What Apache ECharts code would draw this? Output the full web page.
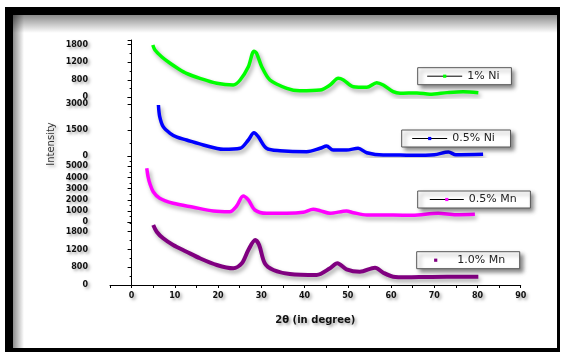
<!DOCTYPE html>
<html>
<head>
<meta charset="utf-8">
<script src="https://cdn.jsdelivr.net/npm/echarts@6/dist/echarts.min.js"></script>
<style>
  html, body { margin: 0; padding: 0; background: #fff; }
  #xrd { width: 562px; height: 355px; }
</style>
</head>
<body>
<div id="xrd"></div>
<script>
// 2theta / intensity, one pair of arrays per sample
var names  = ['1% Ni', '0.5% Ni', '0.5% Mn', '1.0% Mn'];
var colors = ['#00ff00', '#0000ff', '#ff00ff', '#800080'];

var ni1X = [4.9, 5.4, 7, 8.9, 10.8, 12.7, 15.8, 19.7, 23.5, 25.1, 27.0, 28.3, 28.9, 30.1, 32.0, 35.9, 38.9, 43.6, 45.9, 47.8, 49.0, 51.3, 54.4, 56.7, 58.2, 60.5, 62.1, 66, 69, 73, 76.7, 80.2];
var ni1Y = [1790, 1620, 1380, 1164, 980, 821, 650, 479, 421, 592, 1047, 1580, 1506, 1047, 592, 308, 226, 250, 421, 650, 592, 363, 342, 500, 421, 192, 137, 150, 103, 160, 192, 157];

var ni05X = [6.2, 6.5, 7.3, 8.9, 10.5, 12.7, 16.6, 21.2, 25.1, 27.0, 28.3, 29.3, 31.2, 34.3, 40.5, 43.6, 45.1, 46.6, 49.7, 52.4, 54.4, 58.2, 62.1, 65, 70, 73.3, 75, 81.3];
var ni05Y = [2960, 2285, 1708, 1327, 1100, 940, 652, 404, 462, 940, 1362, 1131, 462, 323, 265, 462, 594, 363, 363, 462, 208, 75, 75, 60, 90, 250, 90, 115];

var mn05X = [3.5, 3.8, 4.2, 5.0, 6.5, 9.6, 14.3, 18.9, 22.7, 24.3, 25.8, 27.0, 28.5, 31.2, 35.9, 39.7, 42.0, 43.6, 45.9, 49.7, 51.3, 54.4, 60.5, 65, 70.9, 75, 79.4];
var mn05Y = [4833, 4077, 3483, 2727, 2133, 1683, 1323, 990, 927, 1440, 2340, 1980, 1080, 783, 783, 873, 1143, 1017, 783, 990, 837, 630, 630, 600, 783, 650, 693];

var mn10X = [5.0, 5.8, 7.3, 9.6, 12.7, 15.8, 19.7, 23.5, 25.5, 27.0, 28.6, 29.5, 30.8, 32.8, 36.6, 42.8, 45.9, 47.6, 49.7, 52.8, 56.3, 58.2, 60.5, 63.6, 68, 72.9, 80.2];
var mn10Y = [2026, 1800, 1577, 1351, 1125, 902, 675, 564, 733, 1182, 1520, 1351, 733, 507, 371, 338, 564, 733, 530, 449, 584, 415, 280, 260, 270, 280, 280];

// tick values and the text printed at them (the original labels are not linear)
var ni1Ticks  = [0, 600, 1200, 1800];
var ni1Text   = ['0', '800', '1200', '1800'];
var ni05Ticks = [0, 1500, 3000];
var ni05Text  = ['0', '1500', '3000'];
var mn05Ticks = [0, 1000, 2000, 3000, 4000, 5000];
var mn05Text  = ['0', '1000', '2000', '3000', '4000', '5000'];
var mn10Ticks = [0, 600, 1200, 1800];
var mn10Text  = ['0', '800', '1200', '1800'];
var xLabels   = [0, 10, 20, 30, 40, 50, 60, 70, 80, 90];

var xs = [ni1X, ni05X, mn05X, mn10X];
var ys = [ni1Y, ni05Y, mn05Y, mn10Y];
var tickVals = [ni1Ticks, ni05Ticks, mn05Ticks, mn10Ticks];
var tickText = [ni1Text, ni05Text, mn05Text, mn10Text];

// layout of the four stacked panels
var panelTop = [40, 97.3, 156.3, 222];
var panelH   = [57.3, 59, 65.7, 63];
var yMax     = [1961, 3404, 5910, 2127];
var yStep    = [600, 1500, 1000, 600];

var shadowTxt = {
  textShadowColor: 'rgba(0,0,0,0.35)',
  textShadowBlur: 3,
  textShadowOffsetX: 2,
  textShadowOffsetY: 2
};

function pairs(a, b) {
  var out = [];
  for (var i = 0; i < a.length; i++) out.push([a[i], b[i]]);
  return out;
}

var grids = [], xAxes = [], yAxes = [], series = [];
for (var i = 0; i < 4; i++) {
  grids.push({ left: 110, right: 41.3, top: panelTop[i], height: panelH[i] });
  xAxes.push({
    type: 'value', gridIndex: i, min: -5, max: 90, interval: 5,
    show: i === 3,
    axisLine: { lineStyle: { color: '#000', width: 1 } },
    axisTick: { length: 3, lineStyle: { color: '#000' } },
    splitLine: { show: false },
    axisLabel: Object.assign({
      margin: 7, fontSize: 8, fontWeight: 'bold', fontFamily: 'DejaVu Sans', color: '#111',
      formatter: function (v) { return xLabels.indexOf(v) < 0 ? '' : String(v); }
    }, shadowTxt),
    name: i === 3 ? '2θ (in degree)' : '',
    nameLocation: 'middle', nameGap: 30,
    nameTextStyle: Object.assign({ fontSize: 10, fontWeight: 'bold', fontFamily: 'DejaVu Sans', color: '#111' }, shadowTxt)
  });
  (function (k) {
    yAxes.push({
      type: 'value', gridIndex: k, min: 0, max: yMax[k], interval: yStep[k],
      axisLine: { show: true, lineStyle: { color: '#000', width: 1 } },
      axisTick: { show: true, length: 4, lineStyle: { color: '#000' } },
      minorTick: { show: true, splitNumber: 2, length: 2, lineStyle: { color: '#000' } },
      splitLine: { show: false },
      axisLabel: Object.assign({
        margin: 22, fontSize: 8, fontWeight: 'bold', fontFamily: 'DejaVu Sans', color: '#111',
        padding: [3, 0, 0, 0],
        formatter: function (v) {
          var j = tickVals[k].indexOf(v);
          return j < 0 ? '' : tickText[k][j];
        }
      }, shadowTxt)
    });
  })(i);
  series.push({
    name: names[i], type: 'line', xAxisIndex: i, yAxisIndex: i,
    data: pairs(xs[i], ys[i]),
    smooth: 0.3, symbol: 'rect', showSymbol: false,
    lineStyle: {
      color: colors[i], width: i === 3 ? 4 : 3.5,
      shadowColor: 'rgba(0,0,0,0.35)', shadowBlur: 4, shadowOffsetX: 2, shadowOffsetY: 3
    },
    itemStyle: { color: colors[i] }
  });
}

function legendBox(k, left, top, padL, padR, itemW, showLine) {
  return {
    data: [names[k]], left: left, top: top,
    padding: [3, padR, 3, padL], itemWidth: itemW, itemHeight: 4, itemGap: 0,
    selectedMode: false,
    backgroundColor: '#fff', borderColor: '#555', borderWidth: 1,
    shadowBlur: 4, shadowColor: 'rgba(0,0,0,0.45)', shadowOffsetX: 3, shadowOffsetY: 3,
    itemStyle: { color: colors[k] },
    lineStyle: { color: '#000', width: 1, opacity: showLine ? 1 : 0 },
    textStyle: { fontFamily: 'DejaVu Sans', fontSize: 11, color: '#222' }
  };
}

var myChart = echarts.init(document.getElementById('xrd'));
var option = {
  backgroundColor: '#fff',
  animation: false,
  grid: grids,
  xAxis: xAxes,
  yAxis: yAxes,
  legend: [
    legendBox(0, 417.7, 67.7, 9, 12, 35, true),
    legendBox(1, 401.7, 130, 10, 15.6, 35, true),
    legendBox(2, 417.7, 191, 11.6, 13.7, 34, true),
    legendBox(3, 416.7, 251.7, 2, 14.6, 33, false)
  ],
  graphic: [
    { type: 'rect', z: -100, shape: { x: 5, y: 7, width: 555, height: 345 }, style: { fill: '#000' } },
    { type: 'rect', z: -99, shape: { x: 13, y: 15, width: 544, height: 333 }, style: { fill: '#fff' } },
    { type: 'rect', z: -98, shape: { x: 13, y: 15, width: 544, height: 18 },
      style: { fill: new echarts.graphic.LinearGradient(0, 0, 0, 1, [
        { offset: 0, color: 'rgba(0,0,0,0.45)' }, { offset: 1, color: 'rgba(0,0,0,0)' }]) } },
    { type: 'rect', z: -98, shape: { x: 13, y: 15, width: 11, height: 333 },
      style: { fill: new echarts.graphic.LinearGradient(0, 0, 1, 0, [
        { offset: 0, color: 'rgba(0,0,0,0.45)' }, { offset: 1, color: 'rgba(0,0,0,0)' }]) } },
    { type: 'text', x: 51, y: 144, rotation: Math.PI / 2,
      style: { text: 'Intensity', fill: '#333', font: '10px "DejaVu Sans"', align: 'center', verticalAlign: 'middle',
        textShadowColor: 'rgba(0,0,0,0.35)', textShadowBlur: 3, textShadowOffsetX: 2, textShadowOffsetY: 2 } }
  ],
  series: series
};
myChart.setOption(option);
</script>
</body>
</html>
